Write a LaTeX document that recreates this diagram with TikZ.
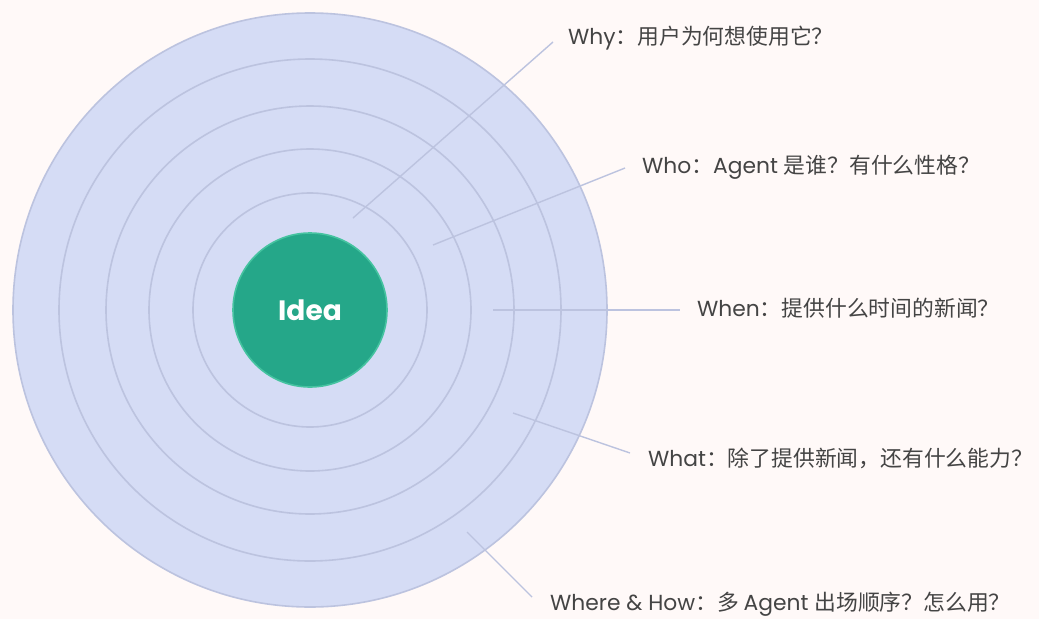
\documentclass[tikz,border=0pt]{standalone}
\usepackage{fontspec}
\setmainfont{Poppins}
\newfontfamily\cjk{Noto Sans CJK SC}
\definecolor{bgc}{HTML}{FFF9F8}
\definecolor{ringfill}{HTML}{D5DCF5}
\definecolor{ringline}{HTML}{BCC3DF}
\definecolor{ideafill}{HTML}{25A789}
\definecolor{idealine}{HTML}{45C3A0}
\definecolor{txt}{HTML}{444444}
\tikzset{
  ring/.style={circle, draw=ringline, line width=1.6pt, inner sep=0pt},
  lead/.style={draw=ringline, line width=1.4pt},
  lab/.style={anchor=west, text=txt, font=\fontsize{21.8}{26}\selectfont, inner sep=0pt},
}
\begin{document}
\begin{tikzpicture}[x=1pt,y=-1pt]
\fill[bgc] (0,0) rectangle (1039,619);
\useasboundingbox (0,0) rectangle (1039,619);
\node[ring, fill=ringfill, minimum size=594pt] (r5) at (310,310) {};
\node[ring, minimum size=502pt] (r4) at (310,310) {};
\node[ring, minimum size=408pt] (r3) at (310,310) {};
\node[ring, minimum size=322pt] (r2) at (310,310) {};
\node[ring, minimum size=234pt] (r1) at (310,310) {};
\node[circle, fill=ideafill, draw=idealine, line width=1.6pt, minimum size=154pt, inner sep=0pt, text=white, font=\fontsize{28}{32}\bfseries\selectfont] (idea) at (310,310) {Idea};
\coordinate (a1) at (353,218);
\coordinate (b1) at (553,42);
\coordinate (a2) at (433,245);
\coordinate (b2) at (625,168);
\coordinate (a3) at (493,310);
\coordinate (b3) at (680,310);
\coordinate (a4) at (513,413);
\coordinate (b4) at (630,453);
\coordinate (a5) at (467,532);
\coordinate (b5) at (532,597);
\draw[lead] (a1) -- (b1);
\draw[lead] (a2) -- (b2);
\draw[lead] (a3) -- (b3);
\draw[lead] (a4) -- (b4);
\draw[lead] (a5) -- (b5);
\node[lab] (t1) at (568,38) {Why{\cjk ：用户为何想使用它？}};
\node[lab] (t2) at (642,167) {Who{\cjk ：}Agent {\cjk 是谁？有什么性格？}};
\node[lab] (t3) at (697,308) {When{\cjk ：提供什么时间的新闻？}};
\node[lab] (t4) at (648,458) {What{\cjk ：除了提供新闻，还有什么能力？}};
\node[lab] (t5) at (550,604) {Where \& How{\cjk ：多 }Agent {\cjk 出场顺序？怎么用？}};
\end{tikzpicture}
\end{document}
